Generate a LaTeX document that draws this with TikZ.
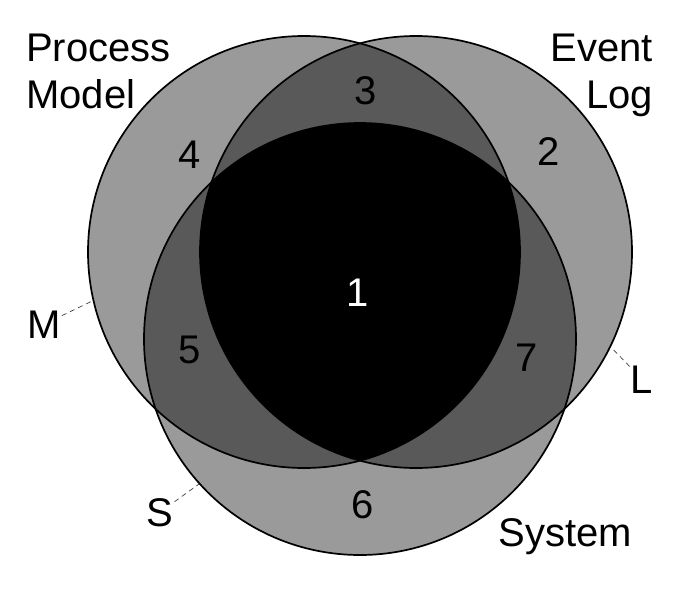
\documentclass[tikz,border=0pt]{standalone}
\usepackage{fontspec}
\setmainfont{Liberation Sans}
\begin{document}
\begin{tikzpicture}[x=1pt,y=-1pt,
  lbl/.style={font=\fontsize{40}{46}\selectfont, inner sep=1pt, anchor=base},
  ring/.style={circle, draw=black, line width=1.7pt, minimum size=432pt, inner sep=0pt},
  leader/.style={draw=black!75, line width=0.7pt, dash pattern=on 5pt off 4pt}]
\definecolor{lightg}{HTML}{9A9A9A}
\definecolor{darkg}{HTML}{595959}
\useasboundingbox (0,0) rectangle (700,594);
\fill[white] (0,0) rectangle (700,594);
% fills
\fill[lightg] (304,252) circle[radius=216pt];
\fill[lightg] (416,252) circle[radius=216pt];
\fill[lightg] (360,339) circle[radius=216pt];
\begin{scope}
  \clip (304,252) circle[radius=216pt];
  \fill[darkg] (416,252) circle[radius=216pt];
  \fill[darkg] (360,339) circle[radius=216pt];
\end{scope}
\begin{scope}
  \clip (416,252) circle[radius=216pt];
  \fill[darkg] (360,339) circle[radius=216pt];
\end{scope}
\begin{scope}
  \clip (304,252) circle[radius=216pt];
  \clip (416,252) circle[radius=216pt];
  \fill[black] (360,339) circle[radius=216pt];
\end{scope}
% outlines
\node[ring] (cM) at (304,252) {};
\node[ring] (cL) at (416,252) {};
\node[ring] (cS) at (360,339) {};
% titles
\node[lbl, anchor=base west] (tPM1) at (25,61) {Process};
\node[lbl, anchor=base west] (tPM2) at (25,108) {Model};
\node[lbl, anchor=base east] (tEL1) at (654,61) {Event};
\node[lbl, anchor=base east] (tEL2) at (654,108) {Log};
\node[lbl] (tSys) at (565,546) {System};
% region numbers
\node[lbl, text=white] (n1) at (358,306) {1};
\node[lbl] (n2) at (549,165) {2};
\node[lbl] (n3) at (366,104) {3};
\node[lbl] (n4) at (190,168) {4};
\node[lbl] (n5) at (190,363) {5};
\node[lbl] (n6) at (363,518) {6};
\node[lbl] (n7) at (527,371) {7};
% set letters
\node[lbl] (labM) at (44,338) {M};
\node[lbl] (labL) at (642,393) {L};
\node[lbl] (labS) at (160,526) {S};
\draw[leader] (labM) -- (cM.193);
\draw[leader] (labL) -- (cL.334);
\draw[leader] (labS) -- (cS.222);
\end{tikzpicture}
\end{document}
